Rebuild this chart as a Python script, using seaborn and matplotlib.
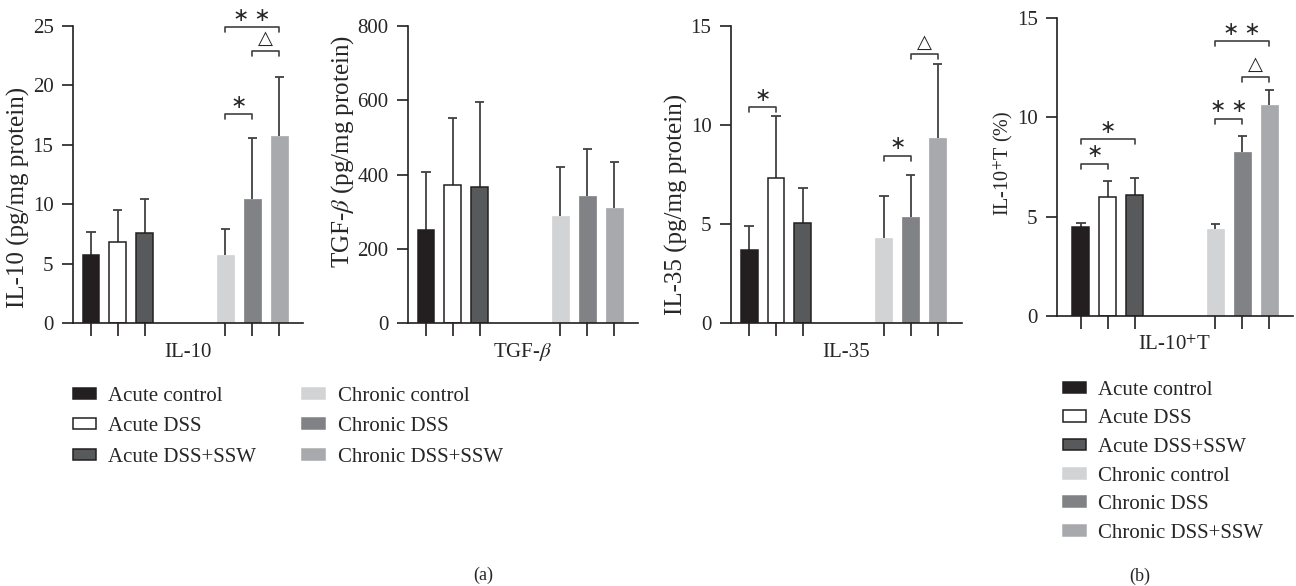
import matplotlib
matplotlib.use("Agg")
import matplotlib.pyplot as plt
from matplotlib.patches import Patch
import pandas as pd
import seaborn as sns

# groups and summary values (mean, SD)
groups = ["Acute control", "Acute DSS", "Acute DSS+SSW",
          "Chronic control", "Chronic DSS", "Chronic DSS+SSW"]

il10_mean = [5.7, 6.8, 7.55, 5.7, 10.45, 15.75]
il10_sd = [2.0, 2.7, 2.9, 2.25, 5.15, 4.95]
tgf_mean = [250, 372, 366, 289, 342, 311]
tgf_sd = [158, 180, 229, 130, 128, 122]
il35_mean = [3.67, 7.33, 5.06, 4.31, 5.34, 9.32]
il35_sd = [1.22, 3.12, 1.78, 2.09, 2.16, 3.76]
il10t_mean = [4.47, 5.97, 6.09, 4.36, 8.27, 10.61]
il10t_sd = [0.2, 0.81, 0.85, 0.28, 0.81, 0.74]

# significance brackets: (group a, group b, height, mark)
il10_sig = [(3, 4, 17.56, "\u2217"), (4, 5, 22.9, "\u25b3"), (3, 5, 24.9, "\u2217 \u2217")]
tgf_sig = []
il35_sig = [(0, 1, 10.89, "\u2217"), (3, 4, 8.43, "\u2217"), (4, 5, 13.57, "\u25b3")]
il10t_sig = [(0, 1, 7.65, "\u2217"), (0, 2, 8.89, "\u2217"), (3, 4, 9.94, "\u2217 \u2217"),
             (4, 5, 12.04, "\u25b3"), (3, 5, 13.82, "\u2217 \u2217")]

slots = [0, 1, 2, 5, 6, 7]

colors = {"Acute control": "#231f20", "Acute DSS": "#ffffff", "Acute DSS+SSW": "#58595b",
          "Chronic control": "#d1d3d4", "Chronic DSS": "#808285", "Chronic DSS+SSW": "#a7a9ac"}
edge = "#231f20"
line_c = "#414042"

sns.set_style("ticks")
plt.rcParams["font.family"] = ["Liberation Serif", "DejaVu Sans"]
plt.rcParams["mathtext.fontset"] = "stix"
plt.rcParams["font.size"] = 15

fig = plt.figure(figsize=(12.96, 5.86), dpi=100)

# (means, sds, brackets, ymax, yticks, ylabel, xlabel, axes rect, left xlim,
#  ylabel size, ylabel position in axes coords)
panels = [
    (il10_mean, il10_sd, il10_sig, 25, [0, 5, 10, 15, 20, 25],
     "IL-10 (pg/mg protein)", "IL-10", [0.0563, 0.4488, 0.1775, 0.5068], -0.67,
     18, (-0.235, 0.424)),
    (tgf_mean, tgf_sd, tgf_sig, 800, [0, 200, 400, 600, 800],
     "TGF-$\\beta$ (pg/mg protein)", "TGF-$\\beta$", [0.3148, 0.4488, 0.1775, 0.5068], -0.67,
     18, (-0.283, 0.576)),
    (il35_mean, il35_sd, il35_sig, 15, [0, 5, 10, 15],
     "IL-35 (pg/mg protein)", "IL-35", [0.5640, 0.4488, 0.1782, 0.5068], -0.67,
     18, (-0.234, 0.40)),
    (il10t_mean, il10t_sd, il10t_sig, 15, [0, 5, 10, 15],
     "IL-10$^{+}$T (%)", "IL-10$^{+}$T", [0.8156, 0.4608, 0.1821, 0.5085], -0.89,
     14.5, (-0.228, 0.513)),
]

for mean, sd, sig, ymax, yticks, ylab, xlab, rect, x0, ylab_size, ylab_xy in panels:
    ax = fig.add_axes(rect)
    df = pd.DataFrame({"group": groups, "pos": slots, "mean": mean})
    sns.barplot(data=df, x="pos", y="mean", hue="group", hue_order=groups,
                palette=colors, native_scale=True, dodge=False, width=0.63,
                saturation=1, errorbar=None, legend=False, ax=ax, zorder=2)
    bars = sorted(ax.patches, key=lambda p: p.get_x())
    for p, g in zip(bars, groups):
        if g.startswith("Acute"):
            p.set_edgecolor(edge)
            p.set_linewidth(1.1)
        else:
            p.set_edgecolor(colors[g])
            p.set_linewidth(0.5)

    # upward-only error bars
    tops = [m + s for m, s in zip(mean, sd)]
    ax.vlines(slots, mean, tops, color=line_c, lw=1.3, zorder=1)
    ax.hlines(tops, [x - 0.17 for x in slots], [x + 0.17 for x in slots],
              color=line_c, lw=1.3, zorder=1)

    # significance brackets
    drop = ymax * 0.017
    for a, b, h, mark in sig:
        xa, xb = slots[a], slots[b]
        ax.plot([xa, xa, xb, xb], [h - drop, h, h, h - drop], color=line_c,
                lw=1.2, clip_on=False)
        ax.annotate(mark, ((xa + xb) / 2, h), xytext=(0, 8), textcoords="offset points",
                    ha="center", va="center", fontsize=14, annotation_clip=False)

    ax.set_xlim(x0, 7.89)
    ax.set_ylim(0, ymax)
    ax.set_yticks(yticks)
    ax.set_xticks(slots)
    ax.tick_params(axis="x", length=9, width=1.2, color=edge, labelbottom=False)
    ax.tick_params(axis="y", length=8, width=1.2, color=edge, pad=6, labelsize=15)
    for s in ["left", "bottom"]:
        ax.spines[s].set_linewidth(1.2)
        ax.spines[s].set_color(edge)
    sns.despine(ax=ax)
    ax.set_ylabel(ylab, fontsize=ylab_size, va="center")
    ax.yaxis.set_label_coords(*ylab_xy)
    ax.set_xlabel(xlab, fontsize=15, va="center")
    ax.xaxis.set_label_coords(0.5, -0.098)

handles = []
for g in groups:
    ec = edge if g.startswith("Acute") else colors[g]
    handles.append(Patch(facecolor=colors[g], edgecolor=ec, linewidth=1.1))

fig.legend(handles=handles, labels=groups, ncol=2, loc="upper left",
           bbox_to_anchor=(0.0563, 0.340), frameon=False, borderpad=0,
           borderaxespad=0, handlelength=1.1, handleheight=0.45,
           handletextpad=0.6, columnspacing=2.2, labelspacing=0.55, fontsize=15)
fig.legend(handles=handles, labels=groups, ncol=1, loc="upper left",
           bbox_to_anchor=(0.820, 0.350), frameon=False, borderpad=0,
           borderaxespad=0, handlelength=1.1, handleheight=0.45,
           handletextpad=0.6, labelspacing=0.46, fontsize=15)

fig.text(0.3727, 0.018, "(a)", ha="center", va="center", fontsize=13)
fig.text(0.8796, 0.016, "(b)", ha="center", va="center", fontsize=13)

fig.savefig("out.png", dpi=100)
